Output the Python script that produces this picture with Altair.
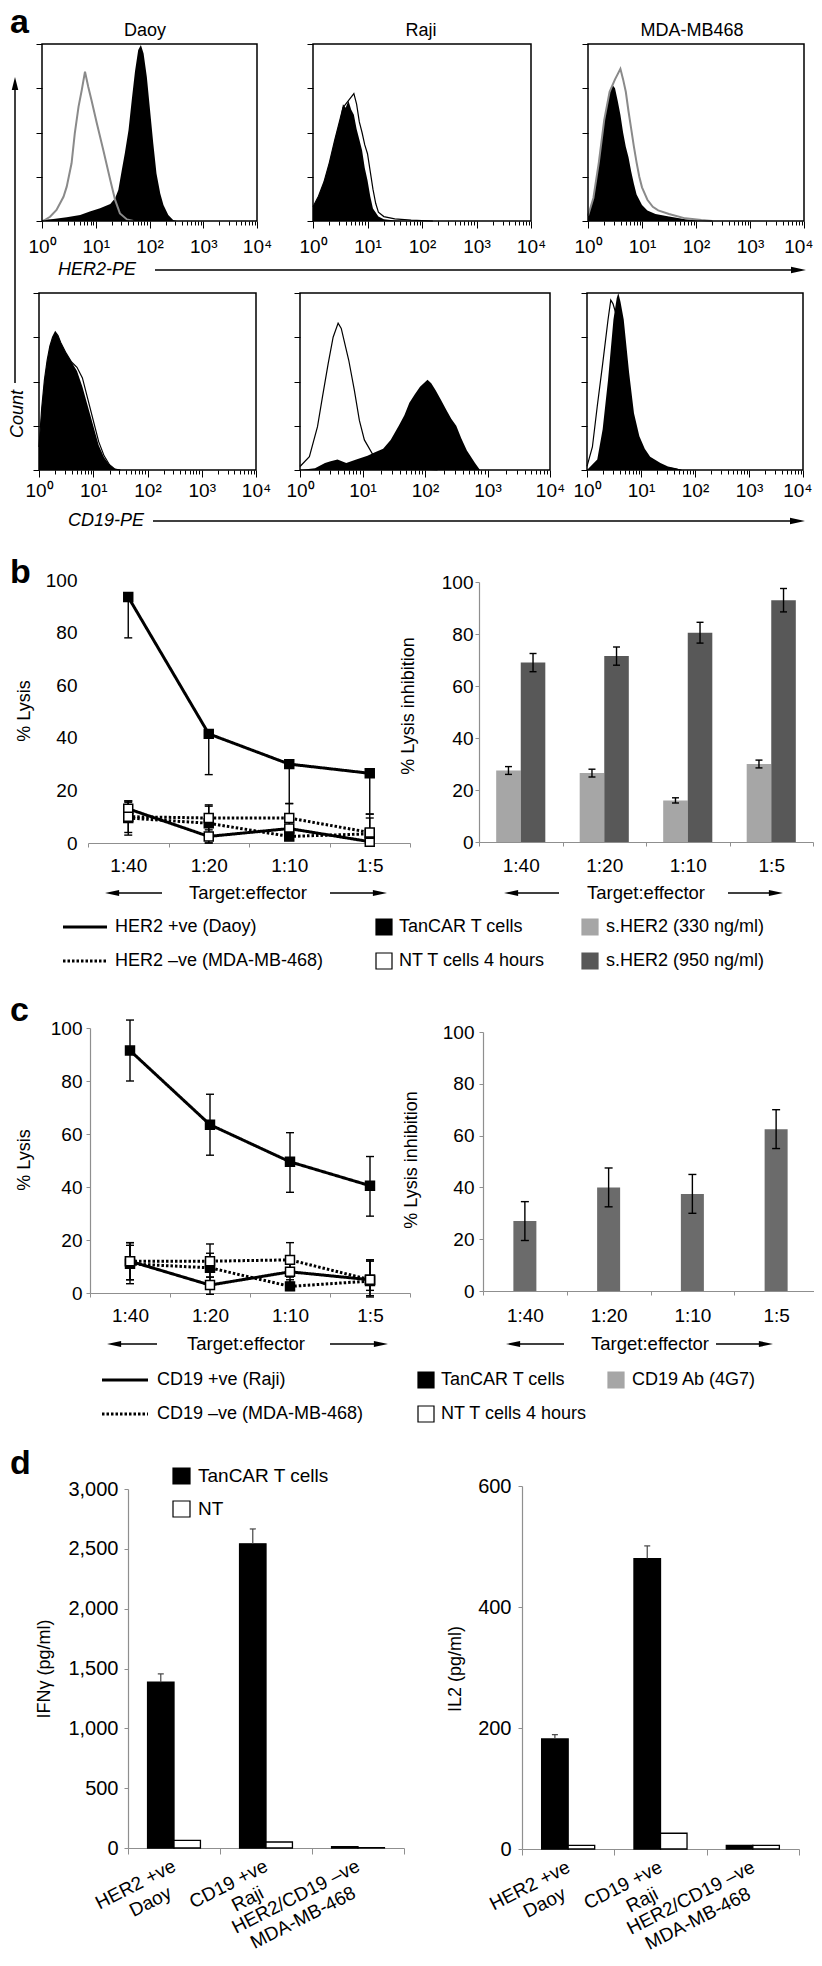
import json
import math
import altair as alt
import pandas as pd

W, H = 806, 1950
MARGIN = 8
FONT = "Liberation Sans"
AXIS_GREY = "#8f8f8f"
LIGHT_GREY = "#a6a6a6"
DARK_GREY = "#585858"
MID_GREY = "#6b6b6b"


def P(v):
    return v - MARGIN


# ---------------------------------------------------------------- data
# panel a : flow cytometry histograms, x = log10 fluorescence, y = % of max count
A_TITLES = ["Daoy", "Raji", "MDA-MB468"]
A_MARKERS = ["HER2-PE", "CD19-PE"]
A_COUNT = "Count"
DECADE_LABELS = ["10⁰", "10¹", "10²", "10³", "10⁴"]

HER2_DAOY_FILL_X = [0.0, 0.21, 0.46, 0.71, 0.89, 1.08, 1.27, 1.36, 1.42, 1.48, 1.54, 1.61, 1.67,
                    1.73, 1.79, 1.84, 1.89, 1.95, 2.01, 2.07, 2.13, 2.20, 2.26, 2.35, 2.44, 2.51]
HER2_DAOY_FILL_Y = [0.5, 1.1, 2.1, 3.4, 5.3, 7.2, 9.6, 12.8, 17.5, 27.9, 38.2, 51.4, 68.4,
                    84.4, 96.6, 99.4, 94.7, 81.5, 62.7, 43.9, 26.9, 15.6, 9.0, 3.4, 0.6, 0]
HER2_DAOY_CTRL_X = [0.02, 0.15, 0.27, 0.40, 0.46, 0.55, 0.61, 0.68, 0.74, 0.80, 0.86, 0.92,
                    1.02, 1.14, 1.27, 1.36, 1.45, 1.58, 1.70]
HER2_DAOY_CTRL_Y = [0, 2.4, 6.2, 13.7, 19.4, 32.6, 49.5, 64.6, 74, 84.4, 75.9, 68.4,
                    55.2, 40.1, 23.2, 11.9, 4.3, 0.9, 0]

HER2_RAJI_FILL_X = [0.0, 0.1, 0.2, 0.3, 0.4, 0.5, 0.55, 0.6, 0.65, 0.7, 0.75, 0.8, 0.85, 0.9,
                    0.95, 1.0, 1.05, 1.1, 1.2, 1.3, 1.5, 1.7]
HER2_RAJI_FILL_Y = [8, 14, 22, 33, 46, 58, 66, 64, 68, 63, 60, 52, 46, 40,
                    30, 23, 14, 7, 2.5, 1, 0.3, 0]
HER2_RAJI_CTRL_X = [0.0, 0.1, 0.2, 0.3, 0.4, 0.5, 0.55, 0.6, 0.65, 0.7, 0.75, 0.8, 0.85, 0.9,
                    0.95, 1.0, 1.05, 1.1, 1.15, 1.2, 1.3, 1.5, 1.8, 2.2]
HER2_RAJI_CTRL_Y = [8, 14, 22, 33, 46, 58, 64, 66, 68, 70, 72, 66, 56, 50,
                    43, 38, 28, 18, 10, 5, 2.5, 1.2, 0.5, 0]

HER2_MDA_FILL_X = [0.0, 0.05, 0.1, 0.15, 0.2, 0.25, 0.3, 0.35, 0.4, 0.45, 0.5, 0.55, 0.6, 0.65,
                   0.7, 0.75, 0.8, 0.85, 0.9, 1.0, 1.1, 1.25, 1.5, 1.8, 2.1]
HER2_MDA_FILL_Y = [3, 8, 13, 22, 33, 45, 57, 66, 72, 77, 75, 68, 60, 50,
                   42, 36, 28, 21, 15, 9, 6, 4, 2.5, 1, 0]
HER2_MDA_CTRL_X = [0.0, 0.1, 0.2, 0.3, 0.4, 0.5, 0.55, 0.6, 0.65, 0.7, 0.75, 0.8, 0.85, 0.9,
                   0.95, 1.0, 1.1, 1.2, 1.3, 1.5, 1.8, 2.1, 2.3]
HER2_MDA_CTRL_Y = [3, 13, 33, 57, 73, 80, 83, 86, 80, 73, 62, 52, 42, 33,
                   25, 19, 12, 8, 6, 4, 1.5, 0.5, 0]

CD19_DAOY_FILL_X = [0.0, 0.05, 0.1, 0.15, 0.2, 0.25, 0.3, 0.35, 0.4, 0.5, 0.6, 0.7, 0.8, 0.9,
                    1.0, 1.1, 1.2, 1.3, 1.4, 1.5]
CD19_DAOY_FILL_Y = [13, 35, 51, 62, 70, 75, 78, 76, 72, 66, 61, 56, 47, 36,
                    25, 14, 7, 3, 0.5, 0]
CD19_DAOY_CTRL_X = [0.0, 0.05, 0.1, 0.15, 0.2, 0.25, 0.3, 0.35, 0.4, 0.5, 0.6, 0.7, 0.8, 0.9,
                    1.0, 1.1, 1.2, 1.3, 1.4, 1.5]
CD19_DAOY_CTRL_Y = [13, 35, 51, 62, 70, 75, 78, 76, 72, 66, 61, 58, 52, 40,
                    28, 16, 8, 3, 0.5, 0]

CD19_RAJI_FILL_X = [0.0, 0.24, 0.4, 0.49, 0.6, 0.74, 0.9, 1.08, 1.2, 1.33, 1.45, 1.58, 1.67,
                    1.75, 1.84, 1.92, 2.04, 2.1, 2.17, 2.25, 2.34, 2.42, 2.50, 2.58, 2.67, 2.80,
                    2.88]
CD19_RAJI_FILL_Y = [0, 1, 4, 5, 6, 4, 6, 8, 10, 12, 17, 25, 31,
                    38, 43, 47, 51, 49, 45, 40, 34, 29, 25, 18, 11, 4,
                    0]
CD19_RAJI_CTRL_X = [0.0, 0.15, 0.28, 0.36, 0.45, 0.53, 0.61, 0.66, 0.70, 0.78, 0.87, 0.95, 1.03,
                    1.16, 1.33, 1.58, 1.92, 2.2]
CD19_RAJI_CTRL_Y = [2, 7.5, 24.5, 41.5, 60, 75, 83, 80, 74, 62, 45, 28, 17,
                    9, 5, 2, 0.5, 0]

CD19_MDA_FILL_X = [0.0, 0.19, 0.29, 0.39, 0.49, 0.55, 0.58, 0.62, 0.68, 0.78, 0.87, 0.97, 1.07,
                   1.17, 1.36, 1.5, 1.65, 1.75]
CD19_MDA_FILL_Y = [0, 6, 23, 51, 85, 97, 100, 95, 85, 55, 32, 19, 12,
                   7.5, 4, 2, 1, 0]
CD19_MDA_CTRL_X = [0.0, 0.1, 0.19, 0.29, 0.39, 0.44, 0.48, 0.53, 0.63, 0.73, 0.87, 1.07, 1.36,
                   1.75]
CD19_MDA_CTRL_Y = [2, 13, 36, 60, 85, 96, 94, 89, 70, 45, 23, 7.5, 2,
                   0]

# panels b, c : cytotoxicity
RATIOS = ["1:40", "1:20", "1:10", "1:5"]
AXIS_TARGET = "Target:effector"
Y_LYSIS = "% Lysis"
Y_INHIB = "% Lysis inhibition"

B_POS_TAN = [93.5, 41.5, 30.0, 26.5]
B_POS_TAN_LO = [78, 26, 15, 11]
B_POS_TAN_HI = [93.5, 41.5, 30.0, 26.5]
B_POS_NT = [13, 2.5, 5.5, 0.5]
B_POS_NT_LO = [10, 0, 3, -1]
B_POS_NT_HI = [16, 5, 8, 2]
B_NEG_TAN = [9.5, 7.5, 2.5, 3.5]
B_NEG_TAN_LO = [3, 0, 1.5, -1]
B_NEG_TAN_HI = [15.5, 14.5, 3.5, 9.5]
B_NEG_NT = [10, 9.5, 9.5, 4]
B_NEG_NT_LO = [4, 4, 4, -1]
B_NEG_NT_HI = [16, 14, 15, 11]

B_SHER2_330 = [27.5, 26.5, 16, 30]
B_SHER2_330_ERR = [1.5, 1.5, 1, 1.5]
B_SHER2_950 = [69, 71.5, 80.5, 93]
B_SHER2_950_ERR = [3.5, 3.5, 4, 4.5]

B_LINE_LEGEND = ["HER2 +ve (Daoy)", "HER2 –ve (MDA-MB-468)"]
B_CELL_LEGEND = ["TanCAR T cells", "NT T cells 4 hours"]
B_BAR_LEGEND = ["s.HER2 (330 ng/ml)", "s.HER2 (950 ng/ml)"]

C_POS_TAN = [91.5, 63.5, 49.5, 40.5]
C_POS_TAN_LO = [80, 52, 38, 29]
C_POS_TAN_HI = [103, 75, 60.5, 51.5]
C_POS_NT = [12, 3, 8, 5]
C_POS_NT_LO = [5, -0.5, 4, -1.5]
C_POS_NT_HI = [19, 6, 12, 12]
C_NEG_TAN = [11, 9.5, 2.5, 4.5]
C_NEG_TAN_LO = [3.5, 4, 1, 1]
C_NEG_TAN_HI = [18, 15, 5, 12.5]
C_NEG_NT = [12, 12, 12.5, 5]
C_NEG_NT_LO = [5, 6, 6, -1]
C_NEG_NT_HI = [19, 18.5, 19, 12.5]

C_CD19AB = [27, 40, 37.5, 62.5]
C_CD19AB_ERR = [7.5, 7.5, 7.5, 7.5]

C_LINE_LEGEND = ["CD19 +ve (Raji)", "CD19 –ve (MDA-MB-468)"]
C_CELL_LEGEND = ["TanCAR T cells", "NT T cells 4 hours"]
C_BAR_LEGEND = ["CD19 Ab (4G7)"]

# panel d : cytokines (category label = two lines)
D_TARGET_LINE1 = ["HER2 +ve", "CD19 +ve", "HER2/CD19 –ve"]
D_TARGET_LINE2 = ["Daoy", "Raji", "MDA-MB-468"]
D_GROUPS = ["TanCAR T cells", "NT"]
D_IFN_TAN = [1385, 2542, 12]
D_IFN_TAN_ERR = [70, 124, 0]
D_IFN_NT = [64, 50, 3]
D_IL2_TAN = [182, 480, 6]
D_IL2_TAN_ERR = [7, 21, 0]
D_IL2_NT = [6, 26, 6]
D_IFN_TITLE = "IFNγ (pg/ml)"
D_IL2_TITLE = "IL2 (pg/ml)"

PANEL_LETTERS = ["a", "b", "c", "d"]

# ---------------------------------------------------------------- helpers
ONE = alt.Data(values=[{"k": 1}])


def text(s, x, y, size=18, align="left", baseline="middle", weight="normal", style="normal",
         angle=0):
    return alt.Chart(alt.Data(values=[{"t": s}])).mark_text(
        align=align, baseline=baseline, fontSize=size, fontWeight=weight, fontStyle=style,
        angle=angle, font=FONT, color="black"
    ).encode(x=alt.value(P(x)), y=alt.value(P(y)), text="t:N")


def hline(x1, x2, y, width=1.5, dash=None):
    kw = dict(color="black", strokeWidth=width, strokeCap="butt")
    if dash:
        kw["strokeDash"] = dash
    return alt.Chart(ONE).mark_rule(**kw).encode(
        x=alt.value(P(x1)), x2=alt.value(P(x2)), y=alt.value(P(y)))


def vline(x, y1, y2, width=1.5):
    return alt.Chart(ONE).mark_rule(color="black", strokeWidth=width).encode(
        x=alt.value(P(x)), y=alt.value(P(y1)), y2=alt.value(P(y2)))


def swatch(x1, x2, yc, fill, half=8):
    return alt.Chart(ONE).mark_rect(fill=fill, stroke="black" if fill == "white" else fill,
                                    strokeWidth=1.2).encode(
        x=alt.value(P(x1)), x2=alt.value(P(x2)), y=alt.value(P(yc - half)),
        y2=alt.value(P(yc + half)))


HEAD_R = "M1,0L-1,-0.42L-1,0.42Z"
HEAD_L = "M-1,0L1,-0.42L1,0.42Z"
HEAD_U = "M0,-1L-0.5,1L0.5,1Z"


def head(shape, x, y, size=200):
    return alt.Chart(ONE).mark_point(shape=shape, filled=True, size=size, color="black",
                                     opacity=1).encode(x=alt.value(P(x)), y=alt.value(P(y)))


def arrow_right(x1, tip, y, size=200):
    L = math.sqrt(size)
    return [hline(x1, tip - L + 2, y), head(HEAD_R, tip - L / 2, y, size)]


def arrow_left(tip, x2, y, size=200):
    L = math.sqrt(size)
    return [hline(tip + L - 2, x2, y), head(HEAD_L, tip + L / 2, y, size)]


LOG_TICKS = sorted({round(k + math.log10(m), 4) for k in range(4) for m in range(1, 10)} | {4.0})


def histogram(fx, fy, cx, cy, box, ctrl_color, ctrl_width, label_center, last_flush=False):
    x0, x1, ytop, ybot = box
    xs = alt.Scale(domain=[0, 4], range=[P(x0), P(x1)], nice=False, zero=False)
    ys = alt.Scale(domain=[0, 100], range=[P(ybot), P(ytop)], nice=False, zero=False)
    tick_axis = alt.Axis(orient="bottom", offset=-(H - P(ybot)), title=None, values=LOG_TICKS,
                         labels=False,
                         tickSize={"condition": {"test": "datum.value % 1 === 0", "value": 7},
                                   "value": 4},
                         tickColor="black", tickWidth=1, domain=False, grid=False)
    yaxis = alt.Axis(orient="left", offset=-P(x0), title=None, values=[0, 25, 50, 75, 100],
                     labels=False, tickSize=6, tickColor="black", tickWidth=1, domain=False,
                     grid=False)
    lab_kw = dict(orient="bottom", offset=-(H - P(ybot)), title=None, ticks=False, tickSize=0,
                  domain=False, grid=False, labelFontSize=19, labelBaseline="middle",
                  labelPadding=label_center - ybot, labelAngle=0, labelFlush=False,
                  labelOverlap=False, labelColor="black")
    if last_flush:
        test = "datum.value === " + json.dumps(DECADE_LABELS[-1], ensure_ascii=False)
        lab_kw["labelAlign"] = {"condition": {"test": test, "value": "right"}, "value": "center"}
        lab_kw["labelOffset"] = {"condition": {"test": test, "value": 9}, "value": 0}
    label_axis = alt.Axis(**lab_kw)
    fill = alt.Chart(pd.DataFrame({"v": fx, "c": fy})).mark_area(
        color="black", interpolate="linear", opacity=1).encode(
        x=alt.X("v:Q", scale=xs, axis=tick_axis), y=alt.Y("c:Q", scale=ys, axis=yaxis),
        y2=alt.datum(0))
    ctrl = alt.Chart(pd.DataFrame({"v": cx, "c": cy})).mark_line(
        color=ctrl_color, strokeWidth=ctrl_width).encode(
        x=alt.X("v:Q", scale=xs, axis=None), y=alt.Y("c:Q", scale=ys, axis=None))
    frame = alt.Chart(pd.DataFrame({"a": [0], "b": [4], "c": [0], "d": [100]})).mark_rect(
        fillOpacity=0, stroke="black", strokeWidth=1.5).encode(
        x=alt.X("a:Q", scale=xs, axis=None), x2="b:Q",
        y=alt.Y("c:Q", scale=ys, axis=None), y2="d:Q")
    # decade labels: the five decades sit evenly on the log axis -> point scale on same range
    decades = alt.Chart(pd.DataFrame({"lab": DECADE_LABELS})).mark_point(opacity=0).encode(
        x=alt.X("lab:N", scale=alt.Scale(type="point", domain=DECADE_LABELS,
                                         range=[P(x0), P(x1)], padding=0),
                axis=label_axis),
        y=alt.value(P(ybot)))
    return [fill, ctrl, frame, decades]


def band_xaxis(y0, label_center, size=19):
    return alt.Axis(orient="bottom", offset=-(H - P(y0)), title=None, tickBand="extent",
                    tickSize=4, tickColor=AXIS_GREY, domainColor=AXIS_GREY, domainWidth=1.2,
                    labelFontSize=size, labelBaseline="middle",
                    labelPadding=label_center - y0 - 4, labelAngle=0, grid=False,
                    labelColor="black")


def value_yaxis(x0, values, gap, show_line=True, size=19, fmt=None):
    kw = dict(orient="left", offset=-P(x0), title=None, values=values, grid=False,
              labelFontSize=size, labelColor="black")
    if fmt:
        kw["format"] = fmt
    if show_line:
        kw.update(tickSize=4, tickColor=AXIS_GREY, domainColor=AXIS_GREY, domainWidth=1.2,
                  labelPadding=gap - 4)
    else:
        kw.update(ticks=False, tickSize=0, domain=False, labelPadding=gap)
    return alt.Axis(**kw)


def lysis_panel(series, x0, x1, y0, y100, show_y_line, ylab_gap, xlab_center):
    rows = []
    for name, target, eff, vals, los, his in series:
        for i, (r, v, lo, hi) in enumerate(zip(RATIOS, vals, los, his)):
            rows.append({"ratio": r, "idx": i, "val": v, "lo": lo, "hi": hi,
                         "target": target, "eff": eff, "series": name})
    df = pd.DataFrame(rows)
    xs = alt.Scale(type="band", domain=RATIOS, range=[P(x0), P(x1)], paddingInner=0,
                   paddingOuter=0)
    ys = alt.Scale(domain=[0, 100], range=[P(y0), P(y100)], nice=False, zero=False)
    x_first = alt.X("ratio:N", scale=xs, axis=band_xaxis(y0, xlab_center))
    xn = alt.X("ratio:N", scale=xs, axis=None)
    yaxis = value_yaxis(x0, [0, 20, 40, 60, 80, 100], ylab_gap, show_y_line)
    base = alt.Chart(df)
    err = base.mark_rule(color="black", strokeWidth=1.4).encode(
        x=x_first, y=alt.Y("lo:Q", scale=ys, axis=yaxis), y2="hi:Q")
    caps = [base.mark_tick(color="black", thickness=1.4, size=8, opacity=1).encode(
        x=xn, y=alt.Y(f"{f}:Q", scale=ys, axis=None)) for f in ("lo", "hi")]
    lines = base.mark_line(color="black", strokeWidth=3, strokeCap="butt").encode(
        x=xn, y=alt.Y("val:Q", scale=ys, axis=None), detail="series:N", order="idx:Q",
        strokeDash=alt.StrokeDash("target:N", scale=alt.Scale(domain=["pos", "neg"],
                                                               range=[[1, 0], [2.5, 2]]),
                                  legend=None))
    pts = base.mark_square(size=80, filled=True, stroke="black", strokeWidth=1.5,
                           opacity=1).encode(
        x=xn, y=alt.Y("val:Q", scale=ys, axis=None),
        fill=alt.Fill("eff:N", scale=alt.Scale(domain=["tan", "nt"], range=["black", "white"]),
                      legend=None))
    return [err, *caps, lines, pts]


def inhibition_bars(groups, colors, vals, errs, x0, x1, y0, ytop, ylab_gap, xlab_center,
                    outer_pad):
    rows = []
    for g, vs, es in zip(groups, vals, errs):
        for c, v, e in zip(RATIOS, vs, es):
            rows.append({"cat": c, "grp": g, "val": v, "lo": v - e, "hi": v + e})
    df = pd.DataFrame(rows)
    xs = alt.Scale(type="band", domain=RATIOS, range=[P(x0), P(x1)], paddingInner=0,
                   paddingOuter=0)
    ys = alt.Scale(domain=[0, 100], range=[P(y0), P(ytop)], nice=False, zero=False)

    def xo():
        return alt.XOffset("grp:N", scale=alt.Scale(domain=groups, paddingInner=0,
                                                    paddingOuter=outer_pad))
    yaxis = value_yaxis(x0, [0, 20, 40, 60, 80, 100], ylab_gap, True)
    bars = alt.Chart(df).mark_bar(opacity=1).encode(
        x=alt.X("cat:N", scale=xs, axis=band_xaxis(y0, xlab_center)), xOffset=xo(),
        y=alt.Y("val:Q", scale=ys, axis=yaxis), y2=alt.datum(0),
        fill=alt.Fill("grp:N", scale=alt.Scale(domain=groups, range=colors), legend=None))
    xn = alt.X("cat:N", scale=xs, axis=None)
    err = alt.Chart(df).mark_rule(color="black", strokeWidth=1.4).encode(
        x=xn, xOffset=xo(), y=alt.Y("lo:Q", scale=ys, axis=None), y2="hi:Q")
    caps = [alt.Chart(df).mark_tick(color="black", thickness=1.4, size=7, opacity=1).encode(
        x=xn, xOffset=xo(), y=alt.Y(f"{f}:Q", scale=ys, axis=None)) for f in ("lo", "hi")]
    return [bars, err, *caps]


def single_bar_panel(vals, errs, x0, x1, y0, ytop, ylab_gap, xlab_center, color, width):
    df = pd.DataFrame({"cat": RATIOS, "val": vals, "lo": [v - e for v, e in zip(vals, errs)],
                       "hi": [v + e for v, e in zip(vals, errs)]})
    xs = alt.Scale(type="band", domain=RATIOS, range=[P(x0), P(x1)], paddingInner=0,
                   paddingOuter=0)
    ys = alt.Scale(domain=[0, 100], range=[P(y0), P(ytop)], nice=False, zero=False)
    yaxis = value_yaxis(x0, [0, 20, 40, 60, 80, 100], ylab_gap, True)
    base = alt.Chart(df)
    bars = base.mark_bar(color=color, size=width, opacity=1).encode(
        x=alt.X("cat:N", scale=xs, axis=band_xaxis(y0, xlab_center)),
        y=alt.Y("val:Q", scale=ys, axis=yaxis), y2=alt.datum(0))
    xn = alt.X("cat:N", scale=xs, axis=None)
    err = base.mark_rule(color="black", strokeWidth=1.4).encode(
        x=xn, y=alt.Y("lo:Q", scale=ys, axis=None), y2="hi:Q")
    caps = [base.mark_tick(color="black", thickness=1.4, size=8, opacity=1).encode(
        x=xn, y=alt.Y(f"{f}:Q", scale=ys, axis=None)) for f in ("lo", "hi")]
    return [bars, err, *caps]


LABEL_ANGLE = 333


def cytokine_panel(tan, tan_err, nt, x0, x1, y0, ytop, ymax, yvalues, ylab_gap, yfmt=None):
    rows = []
    for g, vs, es in zip(D_GROUPS, [tan, nt], [tan_err, [0] * len(nt)]):
        for c1, v, e in zip(D_TARGET_LINE1, vs, es):
            rows.append({"cat": c1, "grp": g, "val": v, "err": e, "hi": v + e})
    df = pd.DataFrame(rows)
    xs = alt.Scale(type="band", domain=D_TARGET_LINE1, range=[P(x0), P(x1)], paddingInner=0,
                   paddingOuter=0)
    ys = alt.Scale(domain=[0, ymax], range=[P(y0), P(ytop)], nice=False, zero=False)

    def xo():
        return alt.XOffset("grp:N", scale=alt.Scale(domain=D_GROUPS, paddingInner=0,
                                                    paddingOuter=0.74))
    xaxis = alt.Axis(orient="bottom", offset=-(H - P(y0)), title=None, grid=False,
                     tickBand="extent", tickSize=6, tickColor=AXIS_GREY, domainColor=AXIS_GREY,
                     domainWidth=1.2, labels=False)
    yaxis = value_yaxis(x0, yvalues, ylab_gap, True, size=20, fmt=yfmt)
    bars = alt.Chart(df).mark_bar(opacity=1, stroke="black", strokeWidth=1.3).encode(
        x=alt.X("cat:N", scale=xs, axis=xaxis), xOffset=xo(),
        y=alt.Y("val:Q", scale=ys, axis=yaxis), y2=alt.datum(0),
        fill=alt.Fill("grp:N", scale=alt.Scale(domain=D_GROUPS, range=["black", "white"]),
                      legend=None))
    ebase = alt.Chart(df).transform_filter("datum.err > 0")
    xn = alt.X("cat:N", scale=xs, axis=None)
    err = ebase.mark_rule(color="#444444", strokeWidth=1.2).encode(
        x=xn, xOffset=xo(), y=alt.Y("val:Q", scale=ys, axis=None), y2="hi:Q")
    cap = ebase.mark_tick(color="#444444", thickness=1.2, size=6, opacity=1).encode(
        x=xn, xOffset=xo(), y=alt.Y("hi:Q", scale=ys, axis=None))
    # rotated two-line category labels placed on the same band scale
    lab = pd.DataFrame({"cat": D_TARGET_LINE1, "line2": D_TARGET_LINE2})
    lab1 = alt.Chart(lab).mark_text(angle=LABEL_ANGLE, align="right", baseline="top",
                                    fontSize=19, font=FONT, color="black", dx=-4).encode(
        x=xn, y=alt.value(P(y0 + 7)), text="cat:N")
    lab2 = alt.Chart(lab).mark_text(angle=LABEL_ANGLE, align="right", baseline="top",
                                    fontSize=19, font=FONT, color="black", dx=-20,
                                    dy=22).encode(
        x=xn, y=alt.value(P(y0 + 7)), text="line2:N")
    return [bars, err, cap, lab1, lab2]


# ---------------------------------------------------------------- panel a
layers = []
layers.append(text(PANEL_LETTERS[0], 10, 33, size=34, baseline="alphabetic", weight="bold"))
ROW1 = [(42, 257, 44, 221), (313, 531, 44, 221), (588, 804, 44, 221)]
ROW2 = [(39, 256, 293, 470), (300, 550, 293, 470), (587, 803, 293, 470)]
TITLE_X = [145, 421, 692]
for t, tx in zip(A_TITLES, TITLE_X):
    layers.append(text(t, tx, 31, size=18, align="center"))

layers += histogram(HER2_DAOY_FILL_X, HER2_DAOY_FILL_Y, HER2_DAOY_CTRL_X, HER2_DAOY_CTRL_Y,
                    ROW1[0], "#8a8a8a", 2, 246)
layers += histogram(HER2_RAJI_FILL_X, HER2_RAJI_FILL_Y, HER2_RAJI_CTRL_X, HER2_RAJI_CTRL_Y,
                    ROW1[1], "black", 1.2, 246)
layers += histogram(HER2_MDA_FILL_X, HER2_MDA_FILL_Y, HER2_MDA_CTRL_X, HER2_MDA_CTRL_Y,
                    ROW1[2], "#8a8a8a", 2, 246, last_flush=True)
layers += histogram(CD19_DAOY_FILL_X, CD19_DAOY_FILL_Y, CD19_DAOY_CTRL_X, CD19_DAOY_CTRL_Y,
                    ROW2[0], "black", 1.2, 490)
layers += histogram(CD19_RAJI_FILL_X, CD19_RAJI_FILL_Y, CD19_RAJI_CTRL_X, CD19_RAJI_CTRL_Y,
                    ROW2[1], "black", 1.2, 490)
layers += histogram(CD19_MDA_FILL_X, CD19_MDA_FILL_Y, CD19_MDA_CTRL_X, CD19_MDA_CTRL_Y,
                    ROW2[2], "black", 1.2, 490, last_flush=True)

layers.append(text(A_MARKERS[0], 58, 270, size=18, style="italic"))
layers += arrow_right(155, 806, 270, size=225)
layers.append(text(A_MARKERS[1], 68, 521, size=18, style="italic"))
layers += arrow_right(153, 805, 521, size=225)
layers.append(vline(15, 88, 383))
layers.append(head(HEAD_U, 15, 77 + 6.5, size=169))
layers.append(text(A_COUNT, 18, 414, size=18, align="center", style="italic", angle=270))

# ---------------------------------------------------------------- panel b
layers.append(text(PANEL_LETTERS[1], 10, 583, size=34, baseline="alphabetic", weight="bold"))
layers += lysis_panel([
    ("pos_tan", "pos", "tan", B_POS_TAN, B_POS_TAN_LO, B_POS_TAN_HI),
    ("pos_nt", "pos", "nt", B_POS_NT, B_POS_NT_LO, B_POS_NT_HI),
    ("neg_tan", "neg", "tan", B_NEG_TAN, B_NEG_TAN_LO, B_NEG_TAN_HI),
    ("neg_nt", "neg", "nt", B_NEG_NT, B_NEG_NT_LO, B_NEG_NT_HI),
], 88, 410, 843, 580, False, 11, 865)
layers += inhibition_bars(["330", "950"], [LIGHT_GREY, DARK_GREY],
                          [B_SHER2_330, B_SHER2_950], [B_SHER2_330_ERR, B_SHER2_950_ERR],
                          479, 813, 842, 582, 6, 865, 0.7)
layers.append(text(Y_LYSIS, 25, 711, size=18, align="center", angle=270))
layers.append(text(Y_INHIB, 409, 706, size=18, align="center", angle=270))
layers.append(text(AXIS_TARGET, 248, 893, size=18.5, align="center"))
layers += arrow_left(105, 162, 893)
layers += arrow_right(330, 387, 893)
layers.append(text(AXIS_TARGET, 646, 893, size=18.5, align="center"))
layers += arrow_left(504, 559, 893)
layers += arrow_right(728, 783, 893)

B_ROWS = [927, 961]
layers.append(hline(63, 107, B_ROWS[0], width=3))
layers.append(hline(63, 107, B_ROWS[1], width=3, dash=[2.5, 2]))
layers.append(swatch(376, 392, B_ROWS[0], "black"))
layers.append(swatch(376, 392, B_ROWS[1], "white"))
layers.append(swatch(582, 598, B_ROWS[0], LIGHT_GREY))
layers.append(swatch(582, 598, B_ROWS[1], DARK_GREY))
for i, yy in enumerate(B_ROWS):
    layers.append(text(B_LINE_LEGEND[i], 115, yy, size=18))
    layers.append(text(B_CELL_LEGEND[i], 399, yy, size=18))
    layers.append(text(B_BAR_LEGEND[i], 606, yy, size=18))

# ---------------------------------------------------------------- panel c
layers.append(text(PANEL_LETTERS[2], 10, 1021, size=34, baseline="alphabetic", weight="bold"))
layers += lysis_panel([
    ("pos_tan", "pos", "tan", C_POS_TAN, C_POS_TAN_LO, C_POS_TAN_HI),
    ("pos_nt", "pos", "nt", C_POS_NT, C_POS_NT_LO, C_POS_NT_HI),
    ("neg_tan", "neg", "tan", C_NEG_TAN, C_NEG_TAN_LO, C_NEG_TAN_HI),
    ("neg_nt", "neg", "nt", C_NEG_NT, C_NEG_NT_LO, C_NEG_NT_HI),
], 90, 410, 1293, 1028, True, 8, 1315)
layers += single_bar_panel(C_CD19AB, C_CD19AB_ERR, 483, 818, 1291, 1032, 9, 1315,
                           MID_GREY, 23)
layers.append(text(Y_LYSIS, 25, 1160, size=18, align="center", angle=270))
layers.append(text(Y_INHIB, 412, 1160, size=18, align="center", angle=270))
layers.append(text(AXIS_TARGET, 246, 1344, size=18.5, align="center"))
layers += arrow_left(107, 157, 1344)
layers += arrow_right(330, 388, 1344)
layers.append(text(AXIS_TARGET, 650, 1344, size=18.5, align="center"))
layers += arrow_left(506, 564, 1344)
layers += arrow_right(716, 773, 1344)

C_ROWS = [1380, 1414]
layers.append(hline(102, 148, C_ROWS[0], width=3))
layers.append(hline(102, 148, C_ROWS[1], width=3, dash=[2.5, 2]))
layers.append(swatch(418, 434, C_ROWS[0], "black"))
layers.append(swatch(418, 434, C_ROWS[1], "white"))
layers.append(swatch(608, 624, C_ROWS[0], LIGHT_GREY))
for i, yy in enumerate(C_ROWS):
    layers.append(text(C_LINE_LEGEND[i], 157, yy, size=18))
    layers.append(text(C_CELL_LEGEND[i], 441, yy, size=18))
layers.append(text(C_BAR_LEGEND[0], 632, C_ROWS[0], size=18))

# ---------------------------------------------------------------- panel d
layers.append(text(PANEL_LETTERS[3], 10, 1474, size=34, baseline="alphabetic", weight="bold"))
layers += cytokine_panel(D_IFN_TAN, D_IFN_TAN_ERR, D_IFN_NT, 128, 404, 1848, 1489, 3000,
                         [0, 500, 1000, 1500, 2000, 2500, 3000], 10, yfmt=",.0f")
layers += cytokine_panel(D_IL2_TAN, D_IL2_TAN_ERR, D_IL2_NT, 522, 799, 1849, 1486, 600,
                         [0, 200, 400, 600], 11)
layers.append(text(D_IFN_TITLE, 45, 1669, size=18, align="center", angle=270))
layers.append(text(D_IL2_TITLE, 456, 1669, size=18, align="center", angle=270))
layers.append(swatch(173, 190, 1476, "black"))
layers.append(swatch(173, 190, 1509, "white"))
layers.append(text(D_GROUPS[0], 198, 1476, size=19))
layers.append(text(D_GROUPS[1], 198, 1509, size=19))

chart = alt.layer(*layers).resolve_scale(
    x="independent", y="independent", fill="independent", strokeDash="independent",
    xOffset="independent"
).properties(
    width=W, height=H, padding=0, autosize=alt.AutoSizeParams(type="none")
).configure(font=FONT).configure_view(stroke="transparent")

chart.save("out.html", embed_options={"renderer": "svg", "actions": False})
